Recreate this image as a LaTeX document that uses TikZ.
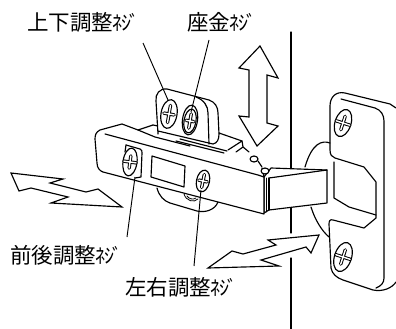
\documentclass[tikz,border=0pt]{standalone}
\usepackage{fontspec}
\newfontfamily\jpfont{Noto Sans CJK JP}
\newcommand{\nj}{{\fontsize{20}{20}\selectfont\kern-0.5ptﾈ\kern-1ptｼ\kern-2.5ptﾞ}}
\tikzset{
  ln/.style={draw=black,line width=1.15pt,line join=round,line cap=round},
  thin ln/.style={draw=black,line width=0.8pt,line join=round,line cap=round},
  lab/.style={anchor=west,inner sep=0,font=\jpfont\fontsize{21.5}{21.5}\selectfont},
  leader/.style={draw=black,line width=0.95pt},
  arrowshape/.style={draw=black,line width=1.15pt,fill=white,line join=miter},
}
% X-shaped recess: centre, rx, ry, tilt
\newcommand{\screwA}[4]{%
  \draw[ln,fill=white] (#1) ellipse [x radius=#2,y radius=#3,rotate=#4];
  \begin{scope}[shift={(#1)},rotate=#4+45]
    \draw[black,line width=3.4pt,line cap=round] (-#2*0.62,#2*0.62) -- (#2*0.62,-#2*0.62) (-#2*0.62,-#2*0.62) -- (#2*0.62,#2*0.62);
    \draw[white,line width=1.4pt,line cap=round] (-#2*0.62,#2*0.62) -- (#2*0.62,-#2*0.62) (-#2*0.62,-#2*0.62) -- (#2*0.62,#2*0.62);
  \end{scope}}
% upright recess: centre, rx, ry, tilt
\newcommand{\screwB}[4]{%
  \draw[ln,fill=white] (#1) ellipse [x radius=#2,y radius=#3,rotate=#4];
  \begin{scope}[shift={(#1)},rotate=#4]
    \draw[black,line width=3.4pt,line cap=round] (-#2*0.65,0) -- (#2*0.65,0) (0,-#3*0.6) -- (0,#3*0.6);
    \draw[white,line width=1.4pt,line cap=round] (-#2*0.65,0) -- (#2*0.65,0) (0,-#3*0.6) -- (0,#3*0.6);
  \end{scope}}
\begin{document}
\begin{tikzpicture}[x=1pt,y=-1pt]
\useasboundingbox (0,0) rectangle (396,329);
\fill[white] (0,0) rectangle (396,329);

% door edge
\draw[ln] (291,32) -- (291,170) (291,208) -- (291,233) (291,258) -- (291,329);

% hinge cup behind plate
\draw[ln] (330,143) .. controls (322,140) and (312,143) .. (305,167);
\draw[ln] (311,207) .. controls (315,220) and (322,231) .. (329,237);

% wall plate
\draw[ln] (396,108) -- (390,104) -- (345,93) .. controls (336,91) and (330,97) .. (330,106)
  -- (330,150) .. controls (330,155) and (332,157) .. (335,158)
  -- (364,167) -- (376,182) -- (376,218) -- (364,228) -- (333,220)
  .. controls (330,219) and (329,221) .. (329,224) -- (331,268)
  .. controls (332,274) and (337,278) .. (343,280) -- (373,290)
  .. controls (383,292) and (392,288) .. (396,282);
\draw[ln] (341,99) -- (375,108) .. controls (381,110) and (384,115) .. (384,121)
  -- (384,278) .. controls (384,283) and (381,286) .. (376,288);
\draw[ln] (334,162) -- (334,198) -- (349,207) -- (376,215);
\screwA{343,123}{8}{14}{-18}
\screwA{343,257}{8.5}{15}{-18}

% arm
\draw[ln,fill=white] (264,177) -- (271,168) -- (327,170) -- (327,203) -- (269,210) -- (264,213) -- cycle;
\draw[ln] (269,178) -- (327,170);
\draw[ln] (269,178) -- (269,210);
\draw[thin ln] (266,178) -- (266,212);

% lower shape behind the body
\draw[ln] (157,188) .. controls (159,196) and (164,201) .. (170,203) -- (197,211)
  .. controls (205,213) and (215,210) .. (218,202);
\draw[thin ln] (184,194) .. controls (186,201) and (194,203) .. (198,199);
\draw[thin ln] (187,196) .. controls (189,199) and (193,200) .. (196,198);

% body
\draw[ln,fill=white] (153,125) -- (138,130) -- (122,124) -- (100,130)
  .. controls (96,132) and (95,135) .. (95,139) -- (97,163)
  .. controls (97,168) and (100,171) .. (103,172) -- (264,214) -- (264,177)
  -- (258,175) -- (105,134);
\draw[ln] (262,168) -- (264,177);
\draw[ln] (153,125) -- (168,128) -- (175,134);
\draw[ln] (138,130) -- (155,137) -- (190,146);

% plate
\draw[ln,fill=white] (158,134) -- (156,101) .. controls (155,94) and (160,88) .. (167,89)
  -- (209,100) .. controls (215,102) and (218,107) .. (218,113) -- (219,134)
  .. controls (219,140) and (217,143) .. (213,144) -- (158,131) -- cycle;
\draw[ln] (196,97) .. controls (204,100) and (208,106) .. (208,113) -- (209,144);

% slider and mechanism
\draw[ln] (219,133) -- (242,141) -- (228,150);
\draw[ln] (180,139) -- (227,151);
\draw[ln] (176,141) -- (224,153);
\draw[ln] (242,141) -- (243,147) -- (236,152);
\draw[ln] (243,147) -- (249,152);
\draw[ln,fill=white] (254,159) ellipse [x radius=4,y radius=3];
\draw[ln] (258,161) -- (262,167);
\draw[ln,fill=white] (265,171) ellipse [x radius=4,y radius=3];

% window
\draw[ln] (152,156) -- (185,166) -- (184,187) -- (151,177) -- cycle;

% screws on the plate
\draw[ln,fill=white] (190,120) ellipse [x radius=7.5,y radius=15,rotate=-8];
\screwB{169,114}{8}{14.5}{-10}
\screwB{190,121}{6}{12}{-10}

% left screw and seat
\draw[ln] (126,145) -- (140,149) .. controls (142,150) and (142,151) .. (142,153) -- (141,177) -- (135,178);
\draw[ln] (126,145) -- (125,152);
\screwA{130,162}{7}{14}{-8}
% right screw
\screwB{203,181}{6.5}{11}{-12}

% arrows
\draw[arrowshape] (260,46) -- (239,68) -- (249,70) -- (249,117) -- (239,116) -- (257,146)
  -- (278,126) -- (267,123) -- (267,75) -- (278,78) -- cycle;
\draw[arrowshape] (11,173) -- (63,179) -- (50,183) -- (86,192) -- (98,189) -- (122,207)
  -- (51,203) -- (68,197) -- (31,188) -- (19,191) -- cycle;
\draw[arrowshape] (319,235) -- (311,253) -- (306,247) -- (261,260) -- (279,266) -- (208,268)
  -- (232,251) -- (243,254) -- (276,245) -- (268,240) -- cycle;

% labels
\node[lab] (ud) at (27,22) {上下調整\nj};
\node[lab] (wa) at (187,22) {座金\nj};
\node[lab] (fb) at (10,255) {前後調整\nj};
\node[lab] (lr) at (125,287) {左右調整\nj};

% leaders
\coordinate (udS) at (143,43);
\coordinate (udE) at (168,100);
\coordinate (waS) at (209,40);
\coordinate (waE) at (191,112);
\coordinate (fbS) at (127,237);
\coordinate (fbE) at (135,177);
\coordinate (lrS) at (194,266);
\coordinate (lrE) at (201,190);
\draw[leader] (udS) -- (udE);
\draw[leader] (waS) -- (waE);
\draw[leader] (fbS) -- (fbE);
\draw[leader] (lrS) -- (lrE);
\end{tikzpicture}
\end{document}
